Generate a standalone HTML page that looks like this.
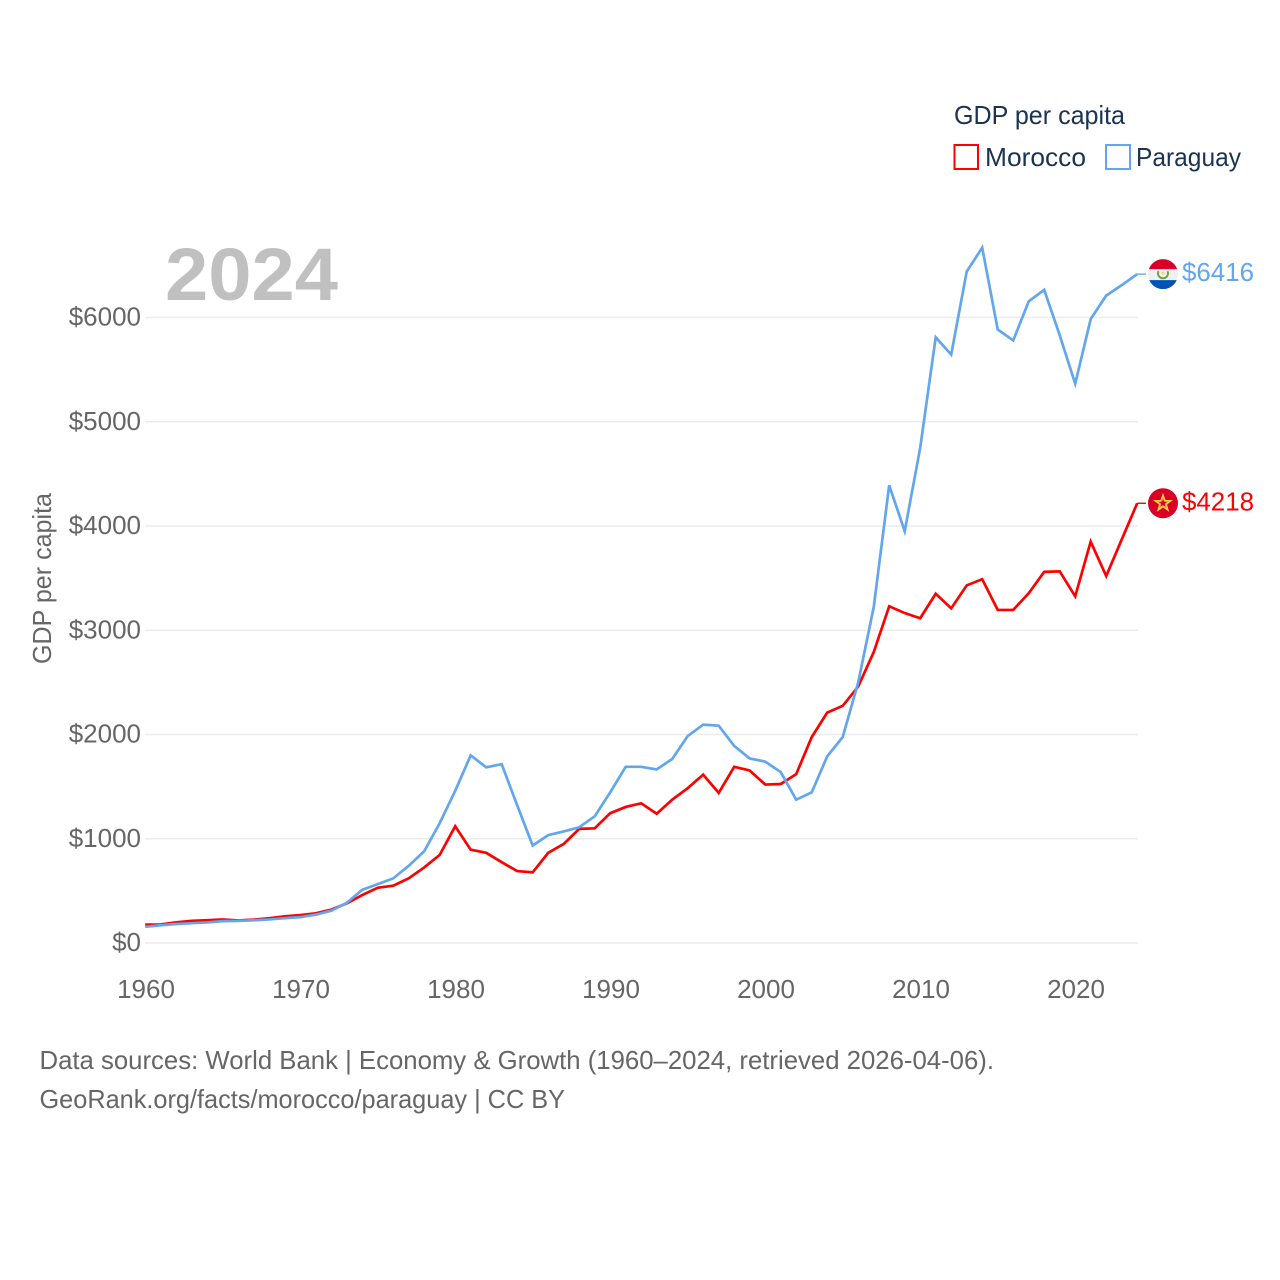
<!DOCTYPE html>
<html lang="en">
<head>
<meta charset="utf-8">
<title>GDP per capita: Morocco and Paraguay</title>
<style>
html,body{margin:0;padding:0;background:#fff;}
svg{display:block;font-family:"Liberation Sans",sans-serif;}
</style>
</head>
<body>
<svg id="chart" width="1280" height="1280" viewBox="0 0 1280 1280" xmlns="http://www.w3.org/2000/svg">
  <rect width="1280" height="1280" fill="#ffffff"/>
  <g id="grid"></g>
  <g id="y-ticks"></g>
  <g id="x-ticks"></g>
  <text x="165" y="300" font-size="74" font-weight="700" fill="#c0c0c0" textLength="173" lengthAdjust="spacingAndGlyphs">2024</text>
  <text transform="translate(51,664) rotate(-90)" font-size="26" fill="#666666" textLength="171" lengthAdjust="spacingAndGlyphs">GDP per capita</text>
  <g id="series"></g>

  <defs>
    <clipPath id="flag-clip"><circle cx="0" cy="0" r="15"/></clipPath>
  </defs>
  <g id="flag-morocco">
    <circle r="15" fill="#d80027"/>
    <polygon points="0,-9 2.1,-2.9 8.6,-2.8 3.4,1.1 5.3,7.3 0,3.6 -5.3,7.3 -3.4,1.1 -8.6,-2.8 -2.1,-2.9" fill="#f6b93b" stroke="#ffda44" stroke-width="1"/>
    <polygon points="0,-4.5 1.2,-1.5 4.3,-1.4 1.8,.6 2.7,3.6 0,1.9 -2.7,3.6 -1.8,.6 -4.3,-1.4 -1.2,-1.5" fill="#d80027"/>
  </g>
  <g id="flag-paraguay">
    <g clip-path="url(#flag-clip)">
      <rect x="-15" y="-15" width="30" height="30" fill="#f0f0f0"/>
      <rect x="-15" y="-15" width="30" height="10" fill="#d80027"/>
      <rect x="-15" y="6" width="30" height="9" fill="#0052b4"/>
    </g>
    <path d="M-4.5,-3 A5,5 0 1 0 4.5,-3" fill="none" stroke="#6da544" stroke-width="2"/>
    <circle cx="0" cy="-1" r="1.5" fill="#ffda44"/>
  </g>
  <g id="end-labels"></g>

  <g>
    <text x="954" y="124" font-size="26" fill="#1a3353" textLength="171" lengthAdjust="spacingAndGlyphs">GDP per capita</text>
    <g>
      <rect x="954.5" y="145" width="23.5" height="24" fill="none" stroke="#ff0000" stroke-width="2"/>
      <text x="985" y="166" font-size="26" fill="#1a3353" textLength="101" lengthAdjust="spacingAndGlyphs">Morocco</text>
    </g>
    <g>
      <rect x="1106" y="145" width="24" height="24" fill="none" stroke="#62a6ee" stroke-width="2"/>
      <text x="1136" y="166" font-size="26" fill="#1a3353" textLength="105" lengthAdjust="spacingAndGlyphs">Paraguay</text>
    </g>
  </g>

  <text x="39.5" y="1069" font-size="26" fill="#666666" textLength="954.5" lengthAdjust="spacingAndGlyphs">Data sources: World Bank | Economy &amp; Growth (1960–2024, retrieved 2026-04-06).</text>
  <text x="39.5" y="1108" font-size="26" fill="#666666" textLength="525.5" lengthAdjust="spacingAndGlyphs">GeoRank.org/facts/morocco/paraguay | CC BY</text>
</svg>
<script>
const firstYear = 1960;
const xTickYears = [1960, 1970, 1980, 1990, 2000, 2010, 2020];
const yTickValues = [0, 1000, 2000, 3000, 4000, 5000, 6000];
const morocco = [176,178,198,213,218,226,216,224,238,256,268,285,320,380,460,530,550,620,725,845,1120,895,865,775,690,678,865,950,1095,1100,1245,1305,1340,1240,1375,1485,1615,1440,1690,1655,1520,1525,1620,1975,2210,2275,2460,2790,3230,3165,3115,3350,3210,3430,3490,3195,3195,3355,3560,3565,3325,3850,3520,3870,4218];
const paraguay = [155,170,182,190,197,210,212,218,226,238,248,272,310,385,510,565,620,740,880,1150,1460,1800,1685,1715,1320,935,1035,1070,1110,1215,1445,1690,1690,1665,1765,1985,2095,2085,1890,1770,1740,1640,1375,1445,1790,1975,2500,3220,4390,3950,4750,5810,5645,6440,6670,5885,5780,6155,6265,5830,5365,5985,6210,6310,6416];

const NS = 'http://www.w3.org/2000/svg';
const xScale = function (year) { return 145.2 + (year - firstYear) * 15.5; };
const yScale = function (value) { return 943 - value * 0.10425; };
function make(tag, parent, attrs, content) {
  const el = document.createElementNS(NS, tag);
  Object.keys(attrs).forEach(function (k) { el.setAttribute(k, attrs[k]); });
  if (content !== undefined) el.textContent = content;
  document.getElementById(parent).appendChild(el);
  return el;
}

yTickValues.forEach(function (v) {
  const line = make('line', 'grid', {x1: 145, x2: 1138, y1: yScale(v), y2: yScale(v), stroke: '#ececec', 'stroke-width': 1.6});
  
  
  const label = make('text', 'y-ticks', {x: 141, y: yScale(v) + 8, 'text-anchor': 'end', 'font-size': 26, fill: '#666666'}, '$' + v);
  
  
});

xTickYears.forEach(function (yr) {
  const label = make('text', 'x-ticks', {x: xScale(yr) + 0.8, y: 998, 'text-anchor': 'middle', 'font-size': 26, fill: '#666666'}, String(yr));
  
  
});

function seriesPoints(values) {
  return values.map(function (v, i) {
    return xScale(firstYear + i).toFixed(2) + ',' + yScale(v).toFixed(2);
  }).join(' ');
}
function lastOf(values) { return values[values.length - 1]; }

const moroccoLine = make('polyline', 'series', {points: seriesPoints(morocco), fill: 'none', stroke: '#ff0000', 'stroke-width': 2.7, 'stroke-linejoin': 'miter'});


const paraguayLine = make('polyline', 'series', {points: seriesPoints(paraguay), fill: 'none', stroke: '#62a6ee', 'stroke-width': 2.7, 'stroke-linejoin': 'miter'});



const endX = xScale(firstYear + morocco.length - 1);
const moroccoStub = make('line', 'series', {x1: endX, x2: 1146, y1: yScale(lastOf(morocco)), y2: yScale(lastOf(morocco)), stroke: '#ff0000', 'stroke-width': 1.4});


const paraguayStub = make('line', 'series', {x1: endX, x2: 1146, y1: yScale(lastOf(paraguay)), y2: yScale(lastOf(paraguay)), stroke: '#62a6ee', 'stroke-width': 1.4});



document.getElementById('flag-morocco').setAttribute('transform', 'translate(1163,' + yScale(lastOf(morocco)) + ')');
document.getElementById('flag-paraguay').setAttribute('transform', 'translate(1163,' + yScale(lastOf(paraguay)) + ')');

const moroccoValue = make('text', 'end-labels', {x: 1182, y: yScale(lastOf(morocco)) + 7, 'font-size': 26, fill: '#ff0000', textLength: 72, lengthAdjust: 'spacingAndGlyphs'}, '$' + lastOf(morocco));


const paraguayValue = make('text', 'end-labels', {x: 1182, y: yScale(lastOf(paraguay)) + 7, 'font-size': 26, fill: '#62a6ee', textLength: 72, lengthAdjust: 'spacingAndGlyphs'}, '$' + lastOf(paraguay));


</script>
</body>
</html>
